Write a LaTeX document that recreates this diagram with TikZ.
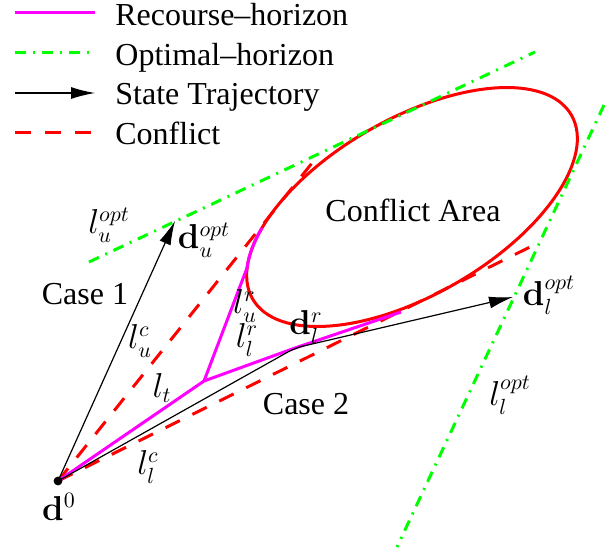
\documentclass[tikz,border=0pt]{standalone}
\usepackage{amsmath}
\usepackage[no-math]{fontspec}
\setmainfont{Liberation Serif}
\usetikzlibrary{arrows.meta,positioning}
\definecolor{recourse}{HTML}{FF00FF}
\definecolor{optimal}{HTML}{00FF00}
\definecolor{conflict}{HTML}{FF0000}

\begin{document}
\begin{tikzpicture}[x=0.5pt,y=-0.5pt,font=\fontsize{16}{19}\selectfont,
    recline/.style={recourse,line width=1.5pt},
    optline/.style={optimal,line width=1.5pt,dash pattern=on 5.5pt off 3.5pt on 1pt off 3.5pt},
    confline/.style={conflict,line width=1.5pt,dash pattern=on 8pt off 7pt},
    trajline/.style={-{Latex[length=12pt,width=6pt]},line width=0.6pt},
    legtext/.style={inner sep=0pt,anchor=base west}]
  \useasboundingbox (0,0) rectangle (608,553);
  % legend
  \coordinate (k1) at (15,12);   \coordinate (k1e) at (95,12);
  \coordinate (k2) at (15,52);   \coordinate (k2e) at (95,52);
  \coordinate (k3) at (15,93);   \coordinate (k3e) at (95,93);
  \coordinate (k4) at (15,132);  \coordinate (k4e) at (95,132);
  \draw[recline] (k1) -- (k1e);
  \draw[optline] (k2) -- (k2e);
  \draw[trajline] (k3) -- (k3e);
  \draw[confline] (k4) -- (k4e);
  \node[legtext] (t1) at (115,25) {Recourse–horizon};
  \node[legtext] (t2) at (115,65) {Optimal–horizon};
  \node[legtext] (t3) at (115,104) {State Trajectory};
  \node[legtext] (t4) at (115,144) {Conflict};
  % points
  \coordinate (d0) at (58,481);
  \coordinate (duopt) at (175,221);
  \coordinate (split) at (204,381);
  \coordinate (dlr) at (295,348);
  \coordinate (dlopt) at (513,297);
  \coordinate (recu) at (247,268);
  \coordinate (recutop) at (262,228);
  \coordinate (recl) at (401,312);
  \coordinate (confu) at (320,153);
  \coordinate (confl) at (538,243);
  \coordinate (optu1) at (89,262);  \coordinate (optu2) at (535,52);
  \coordinate (optl1) at (604,105); \coordinate (optl2) at (397,547);
  % conflict area
  \draw[conflict,line width=1.5pt,rotate around={30:(412,207)}] (412,207) ellipse [x radius=92pt,y radius=44pt];
  \draw[confline] (d0) -- (confu);
  \draw[confline] (d0) -- (confl);
  \draw[optline] (optu1) -- (optu2);
  \draw[optline] (optl1) -- (optl2);
  \draw[recline] (d0) -- (split) -- (dlr) -- (recl);
  \draw[recline] (split) -- (recu) .. controls (248.7,255.4) and (253.6,242.2) .. (recutop);
  \draw[trajline] (d0) -- (duopt);
  \draw[trajline,rounded corners=4pt] (d0) -- (dlr) -- (dlopt);
  \fill (d0) circle (2.2pt);
  % labels
  \node (area) at (413,210) {Conflict Area};
  \node (case1) at (85,294) {Case 1};
  \node (case2) at (306,404) {Case 2};
  \node (luopt) at (109,225) {$l_u^{opt}$};
  \node (duoptl) at (204,240) {$\mathbf{d}_u^{opt}$};
  \node (luc) at (140,341) {$l_u^c$};
  \node (lt) at (162,388) {$l_t$};
  \node (llc) at (148,467) {$l_l^c$};
  \node (d0l) at (59,507) {$\mathbf{d}^0$};
  \node (lur) at (245,306) {$l_u^r$};
  \node (llr) at (247,340) {$l_l^r$};
  \node (dlrl) at (306,327) {$\mathbf{d}_l^r$};
  \node (dloptl) at (549,295) {$\mathbf{d}_l^{opt}$};
  \node (lloptl) at (510,395) {$l_l^{opt}$};
\end{tikzpicture}
\end{document}
